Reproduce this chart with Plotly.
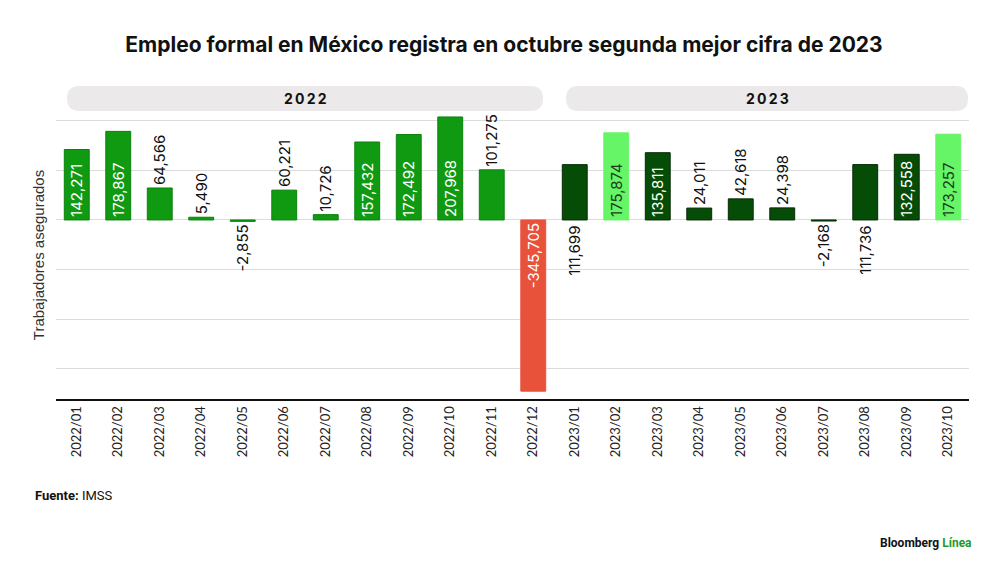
"""Empleo formal en México: variación mensual de trabajadores asegurados."""

import plotly.graph_objects as go

months = [
    "2022/01", "2022/02", "2022/03", "2022/04", "2022/05", "2022/06",
    "2022/07", "2022/08", "2022/09", "2022/10", "2022/11", "2022/12",
    "2023/01", "2023/02", "2023/03", "2023/04", "2023/05", "2023/06",
    "2023/07", "2023/08", "2023/09", "2023/10",
]
values = [
    142271, 178867, 64566, 5490, -2855, 60221,
    10726, 157432, 172492, 207968, 101275, -345705,
    111699, 175874, 135811, 24011, 42618, 24398,
    -2168, 111736, 132558, 173257,
]
# where each label sits: inside the bar, outside it, or under the zero line
label_pos = [
    "in", "in", "out", "out", "out", "out",
    "out", "in", "in", "in", "out", "in",
    "below", "in", "in", "out", "out", "out",
    "out", "below", "in", "in",
]
highlight = ["2023/02", "2023/10"]
alert = ["2022/12"]
years = ["2022", "2023"]

TITLE = "Empleo formal en México registra en octubre segunda mejor cifra de 2023"

# the page body has an 8px margin, so the figure is shrunk and shifted by it
OFF = 8
W, H = 1000 - OFF, 569 - OFF
# plot area in page pixels
L, R, T, B = 56, 969, 111, 399


def px_x(x):
    return (x - L) / (R - L)


def px_y(y):
    return (B - y) / (B - T)


def pill(x0, x1, y0, y1):
    """Rounded rectangle path in paper coords from a page-pixel box."""
    r = (y1 - y0) / 2
    rx = r / (R - L)
    ry = r / (B - T)
    a, b = px_x(x0), px_x(x1)
    top, bot = px_y(y0), px_y(y1)
    mid = (top + bot) / 2
    return (
        f"M{a + rx},{top} L{b - rx},{top} Q{b},{top} {b},{mid} "
        f"Q{b},{bot} {b - rx},{bot} L{a + rx},{bot} Q{a},{bot} {a},{mid} "
        f"Q{a},{top} {a + rx},{top} Z"
    )


def bar_style(month):
    if month in alert:
        return "#e8523b", "#e8523b", "white"
    if month in highlight:
        return "#66f566", "#66f566", "#1d3d1d"
    if month.startswith("2022"):
        return "#0f9a12", "#0c820e", "white"
    return "#054d06", "#062a06", "white"


def main():
    fills, lines, txt_colors, texts, positions = [], [], [], [], []
    for m, v, p in zip(months, values, label_pos):
        f, ln, tc = bar_style(m)
        fills.append(f)
        lines.append(ln)
        txt_colors.append(tc if p == "in" else "#111111")
        texts.append(f"{v:,}" if p != "below" else "")
        positions.append({"in": "inside", "out": "outside", "below": "none"}[p])

    label_font = {"family": "Inter, Liberation Sans, Arial", "size": 15}

    fig = go.Figure()
    fig.add_trace(go.Bar(
        x=months,
        y=values,
        marker={"color": fills, "line": {"color": lines, "width": 1}},
        text=texts,
        textposition=positions,
        textangle=-90,
        insidetextanchor="start",
        textfont={**label_font, "color": txt_colors},
        constraintext="none",
        cliponaxis=False,
        hoverinfo="x+y",
    ))

    annotations = []
    for m, v, p in zip(months, values, label_pos):
        if p == "below":
            annotations.append(dict(
                x=m, y=0, xref="x", yref="y", text=f"{v:,}", showarrow=False,
                textangle=-90, yanchor="top", yshift=-4,
                font={**label_font, "color": "#111111"},
            ))

    # year header pills
    shapes = []
    pill_boxes = {"2022": (67, 543), "2023": (566, 968)}
    for yr in years:
        x0, x1 = pill_boxes[yr]
        shapes.append(dict(
            type="path", xref="paper", yref="paper", path=pill(x0, x1, 86, 111),
            fillcolor="#ebe9e9", line={"width": 0}, layer="below",
        ))
        annotations.append(dict(
            x=px_x((x0 + x1) / 2), y=px_y(98.5), xref="paper", yref="paper",
            xanchor="center", yanchor="middle",
            text=f"<b>{chr(0x2009).join(yr)}</b>", showarrow=False,
            font={"family": "Inter, Liberation Sans, Arial", "size": 14, "color": "#111111"},
        ))

    annotations.append(dict(
        x=px_x(33), y=px_y(495), xref="paper", yref="paper", xanchor="left",
        yanchor="middle", showarrow=False, text="<b>Fuente:</b> IMSS",
        font={"family": "Liberation Sans Narrow, Roboto, Arial", "size": 13, "color": "#111111"},
    ))
    annotations.append(dict(
        x=px_x(974), y=px_y(543), xref="paper", yref="paper", xanchor="right",
        yanchor="middle", showarrow=False,
        text="<b>Bloomberg</b> <b><span style='color:#1f9a1f'>Línea</span></b>",
        font={"family": "Liberation Sans Narrow, Roboto, Arial", "size": 12, "color": "#111111"},
    ))

    fig.update_layout(
        width=W,
        height=H,
        margin={"l": L - OFF, "r": 1000 - R, "t": T - OFF, "b": 569 - B},
        paper_bgcolor="white",
        plot_bgcolor="white",
        showlegend=False,
        bargap=0.4,
        title={
            "text": f"<b>{TITLE}</b>",
            "x": 0.5, "xanchor": "center",
            "y": 1 - (45 - OFF) / H, "yanchor": "middle",
            "font": {"family": "Inter, Liberation Sans, Arial", "size": 21, "color": "#111111"},
        },
        xaxis={
            "type": "category",
            "tickangle": -90,
            "showline": True,
            "linecolor": "#111111",
            "linewidth": 2,
            "ticks": "",
            "tickfont": {"family": "Lato, Noto Sans, Arial", "size": 13, "color": "#222222"},
            "showgrid": False,
        },
        yaxis={
            "range": [-361500, 220000],
            "dtick": 100000,
            "tick0": 0,
            "showticklabels": False,
            "showgrid": True,
            "gridcolor": "#dcdcdc",
            "gridwidth": 1,
            "zeroline": True,
            "zerolinecolor": "#dcdcdc",
            "zerolinewidth": 1,
            "title": {
                "text": "Trabajadores asegurados",
                "standoff": 6,
                "font": {"family": "Liberation Sans, Arial", "size": 15, "color": "#333333"},
            },
        },
        shapes=shapes,
        annotations=annotations,
    )

    fig.write_html("out.html")


if __name__ == "__main__":
    main()
